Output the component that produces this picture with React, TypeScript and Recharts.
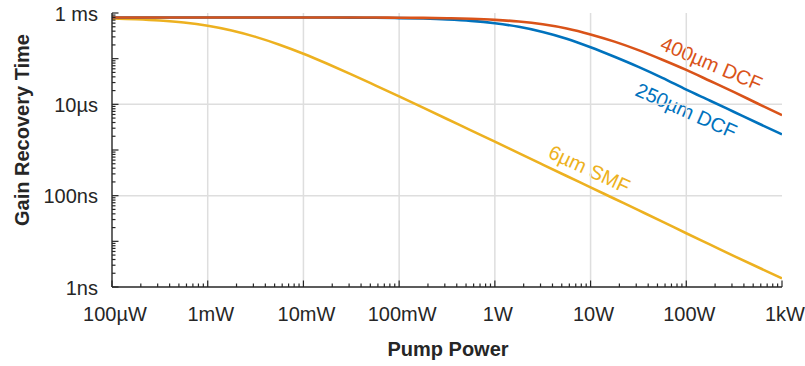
import { LineChart, Line, XAxis, YAxis, ReferenceLine } from 'recharts'

// pump power in watts, quarter-decade steps
const POWER_W = [
  1e-4, 1.778e-4, 3.162e-4, 5.623e-4, 1e-3, 1.778e-3, 3.162e-3, 5.623e-3, 1e-2, 1.778e-2,
  3.162e-2, 5.623e-2, 0.1, 0.1778, 0.3162, 0.5623, 1, 1.778, 3.162, 5.623,
  10, 17.78, 31.62, 56.23, 100, 177.8, 316.2, 562.3, 1000,
]

// gain recovery time in seconds
const SMF_6UM = [
  7.6e-4, 7.32e-4, 6.86e-4, 6.17e-4, 5.24e-4, 4.13e-4, 3.0e-4, 2.02e-4, 1.28e-4, 7.72e-5,
  4.54e-5, 2.61e-5, 1.49e-5, 8.46e-6, 4.78e-6, 2.69e-6, 1.52e-6, 8.54e-7, 4.8e-7, 2.7e-7,
  1.52e-7, 8.55e-8, 4.81e-8, 2.7e-8, 1.5e-8, 8.45e-9, 4.75e-9, 2.7e-9, 1.55e-9,
]
const DCF_250UM = [
  8e-4, 8e-4, 8e-4, 8e-4, 8e-4, 8e-4, 8e-4, 7.98e-4, 7.97e-4, 7.95e-4,
  7.92e-4, 7.85e-4, 7.74e-4, 7.55e-4, 7.23e-4, 6.73e-4, 5.96e-4, 4.98e-4, 3.85e-4, 2.74e-4,
  1.78e-4, 1.1e-4, 6.6e-5, 3.8e-5, 2.1e-5, 1.2e-5, 6.8e-6, 3.85e-6, 2.2e-6,
]
const DCF_400UM = [
  8e-4, 8e-4, 8e-4, 8e-4, 8e-4, 8e-4, 8e-4, 7.99e-4, 7.99e-4, 7.98e-4,
  7.97e-4, 7.94e-4, 7.9e-4, 7.82e-4, 7.69e-4, 7.46e-4, 7.08e-4, 6.5e-4, 5.65e-4, 4.58e-4,
  3.4e-4, 2.36e-4, 1.54e-4, 9.5e-5, 5.68e-5, 3.25e-5, 1.85e-5, 1.03e-5, 5.8e-6,
]

const X_DECADES = [1e-4, 1e-3, 1e-2, 1e-1, 1, 10, 100, 1000]
const X_LABELS = ['100µW', '1mW', '10mW', '100mW', '1W', '10W', '100W', '1kW']
const Y_DECADES = [1e-9, 1e-8, 1e-7, 1e-6, 1e-5, 1e-4, 1e-3]
const Y_LABELED = [1e-3, 1e-5, 1e-7, 1e-9]
const Y_LABELS = ['1 ms', '10µs', '100ns', '1ns']

const X_GRID = [1e-3, 1e-2, 1e-1, 1, 10, 100]
const Y_GRID = [1e-5, 1e-7]

const INK = '#262626'
const FONT = '"Liberation Sans", Arial, Helvetica, sans-serif'
const C_SMF = '#EDB120'
const C_250 = '#0072BD'
const C_400 = '#D95319'

const data = POWER_W.map((p, i) => ({
  p,
  smf: SMF_6UM[i],
  d250: DCF_250UM[i],
  d400: DCF_400UM[i],
}))

// decades plus the 2..9 minor steps in between
const logTicks = (decades: number[]) => {
  const out: number[] = []
  decades.forEach((d, i) => {
    out.push(d)
    if (i < decades.length - 1) for (let m = 2; m <= 9; m++) out.push(m * d)
  })
  return out
}
const X_TICKS = logTicks(X_DECADES)
const Y_TICKS = logTicks(Y_DECADES)

const isDecade = (v: number) => {
  const l = Math.log10(v)
  return Math.abs(l - Math.round(l)) < 1e-6
}
const findIdx = (arr: number[], v: number) =>
  arr.findIndex((a) => Math.abs(Math.log10(a) - Math.log10(v)) < 1e-6)

const MAJOR = 6.5
const MINOR = 3.5

const BottomTick = (props: any) => {
  const { x, y, payload } = props
  const v = payload.value
  const len = isDecade(v) ? MAJOR : MINOR
  const li = findIdx(X_DECADES, v)
  return (
    <g>
      <line x1={x} x2={x} y1={y} y2={y - len} stroke={INK} strokeWidth={1.2} />
      {li >= 0 && (
        <text x={x + 3} y={y + 34} textAnchor="middle" fill={INK} fontSize={20} fontFamily={FONT}>
          {X_LABELS[li]}
        </text>
      )}
    </g>
  )
}

const TopTick = (props: any) => {
  const { x, y, payload } = props
  const len = isDecade(payload.value) ? MAJOR : MINOR
  return <line x1={x} x2={x} y1={y} y2={y + len} stroke={INK} strokeWidth={1.2} />
}

const LeftTick = (props: any) => {
  const { x, y, payload } = props
  const v = payload.value
  const len = isDecade(v) ? MAJOR : MINOR
  const li = findIdx(Y_LABELED, v)
  return (
    <g>
      <line x1={x} x2={x + len} y1={y} y2={y} stroke={INK} strokeWidth={1.2} />
      {li >= 0 && (
        <text x={x - 14} y={y + 7.5} textAnchor="end" fill={INK} fontSize={20} fontFamily={FONT}>
          {Y_LABELS[li]}
        </text>
      )}
    </g>
  )
}

const RightTick = (props: any) => {
  const { x, y, payload } = props
  const len = isDecade(payload.value) ? MAJOR : MINOR
  return <line x1={x} x2={x - len} y1={y} y2={y} stroke={INK} strokeWidth={1.2} />
}

const axisLine = { stroke: INK, strokeWidth: 1.4 }

// curve names, written along each line
const CurveLabel = ({ x, y, angle, color, children }: any) => (
  <text x={x} y={y} transform={`rotate(${angle} ${x} ${y})`} fill={color} fontSize={20} fontFamily={FONT}>
    {children}
  </text>
)

export default function App() {
  return (
    <div style={{ position: 'absolute', left: 0, top: 0, background: '#fff' }}>
      <LineChart width={805} height={366} data={data} margin={{ top: 13, right: 23, bottom: 0, left: 0 }}>
        <XAxis
          xAxisId="b"
          dataKey="p"
          type="number"
          scale="log"
          domain={[1e-4, 1e3]}
          allowDataOverflow
          ticks={X_TICKS}
          interval={0}
          height={79}
          tickSize={0}
          tickMargin={0}
          tickLine={false}
          axisLine={axisLine}
          tick={BottomTick}
        />
        <XAxis
          xAxisId="t"
          orientation="top"
          dataKey="p"
          type="number"
          scale="log"
          domain={[1e-4, 1e3]}
          allowDataOverflow
          ticks={X_TICKS}
          interval={0}
          height={0}
          tickSize={0}
          tickMargin={0}
          tickLine={false}
          axisLine={axisLine}
          tick={TopTick}
        />
        <YAxis
          yAxisId="l"
          type="number"
          scale="log"
          domain={[1e-9, 1e-3]}
          allowDataOverflow
          ticks={Y_TICKS}
          interval={0}
          width={112}
          tickSize={0}
          tickMargin={0}
          tickLine={false}
          axisLine={axisLine}
          tick={LeftTick}
        />
        <YAxis
          yAxisId="r"
          orientation="right"
          type="number"
          scale="log"
          domain={[1e-9, 1e-3]}
          allowDataOverflow
          ticks={Y_TICKS}
          interval={0}
          width={0}
          tickSize={0}
          tickMargin={0}
          tickLine={false}
          axisLine={axisLine}
          tick={RightTick}
        />

        {X_GRID.map((v) => (
          <ReferenceLine key={'gx' + v} x={v} xAxisId="b" yAxisId="l" stroke="#dedede" strokeWidth={1.5} />
        ))}
        {Y_GRID.map((v) => (
          <ReferenceLine key={'gy' + v} y={v} xAxisId="b" yAxisId="l" stroke="#dedede" strokeWidth={1.5} />
        ))}

        <Line xAxisId="b" yAxisId="l" dataKey="smf" type="monotone" stroke={C_SMF} strokeWidth={2.6} dot={false} isAnimationActive={false} />
        <Line xAxisId="b" yAxisId="l" dataKey="d250" type="monotone" stroke={C_250} strokeWidth={2.6} dot={false} isAnimationActive={false} />
        <Line xAxisId="b" yAxisId="l" dataKey="d400" type="monotone" stroke={C_400} strokeWidth={2.6} dot={false} isAnimationActive={false} />

        <CurveLabel x={659} y={49} angle={23} color={C_400}>400µm DCF</CurveLabel>
        <CurveLabel x={634} y={95} angle={24} color={C_250}>250µm DCF</CurveLabel>
        <CurveLabel x={547} y={157} angle={25} color={C_SMF}>6µm SMF</CurveLabel>

        <text x={448} y={356} textAnchor="middle" fill={INK} fontSize={20} fontWeight="bold" fontFamily={FONT}>
          Pump Power
        </text>
        <text x={29} y={130} transform="rotate(-90 29 130)" textAnchor="middle" fill={INK} fontSize={20} fontWeight="bold" fontFamily={FONT}>
          Gain Recovery Time
        </text>
      </LineChart>
    </div>
  )
}
